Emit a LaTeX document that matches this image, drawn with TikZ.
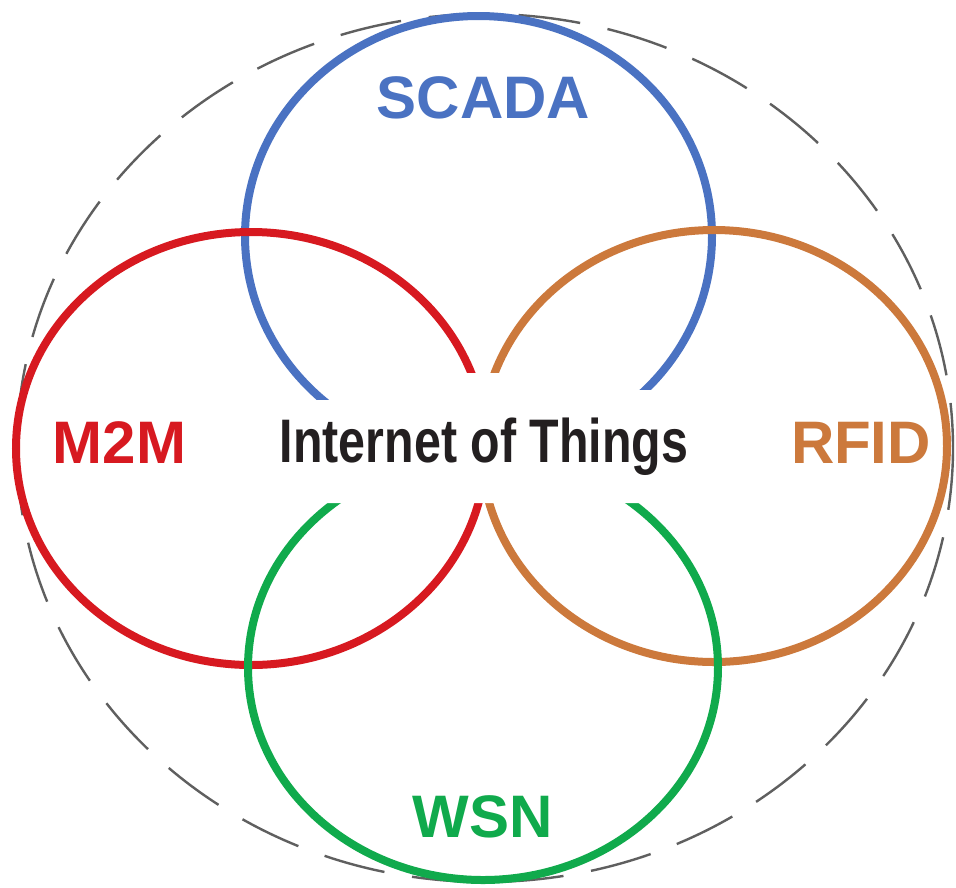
\documentclass[tikz,border=0pt]{standalone}
\usepackage{fontspec}
\setmainfont{Liberation Sans}
\definecolor{cblue}{RGB}{74,114,194}
\definecolor{cred}{RGB}{215,25,32}
\definecolor{corange}{RGB}{204,121,60}
\definecolor{cgreen}{RGB}{16,170,76}
\definecolor{cgray}{RGB}{95,95,95}
\definecolor{ctext}{RGB}{35,31,32}
\tikzset{
  ring/.style={line width=8pt},
  outer/.style={line width=2.4pt, draw=cgray, dash pattern=on 62pt off 28pt},
  lab/.style={inner sep=0pt, anchor=base, font=\bfseries\fontsize{60}{60}\selectfont},
}
\begin{document}
\begin{tikzpicture}[x=1pt,y=-1pt]
\useasboundingbox (0,0) rectangle (956,887);
\fill[white] (0,0) rectangle (956,887);
% outer dashed ellipse
\draw[outer] (485,448) ellipse [x radius=468, y radius=434];
% four rings
\draw[ring, draw=cblue]   (478.5,236) ellipse [x radius=233.5, y radius=220];
\draw[ring, draw=cred]    (251,448.5) ellipse [x radius=235, y radius=216.5];
\draw[ring, draw=corange] (714,446)   ellipse [x radius=233, y radius=216];
\draw[ring, draw=cgreen]  (483,667.5) ellipse [x radius=235, y radius=212.5];
% central gap
\fill[white] (300,400) -- (400,400) -- (400,373) -- (560,373) -- (560,390)
  -- (672,390) -- (672,503) -- (300,503) -- cycle;
% labels
\node[lab, text=cblue]   (scada) at (483.5,118) {SCADA};
\node[lab, text=cred]    (m2m)   at (119.5,463) {M2M};
\node[lab, text=corange] (rfid)  at (861,463)   {RFID};
\node[lab, text=cgreen]  (wsn)   at (482.5,837) {WSN};
\node[inner sep=0pt, anchor=base, text=ctext, font=\bfseries\fontsize{61.5}{61.5}\selectfont]
  (iot) at (484,462) {\scalebox{0.786}[1]{Internet of Things}};
\end{tikzpicture}
\end{document}
